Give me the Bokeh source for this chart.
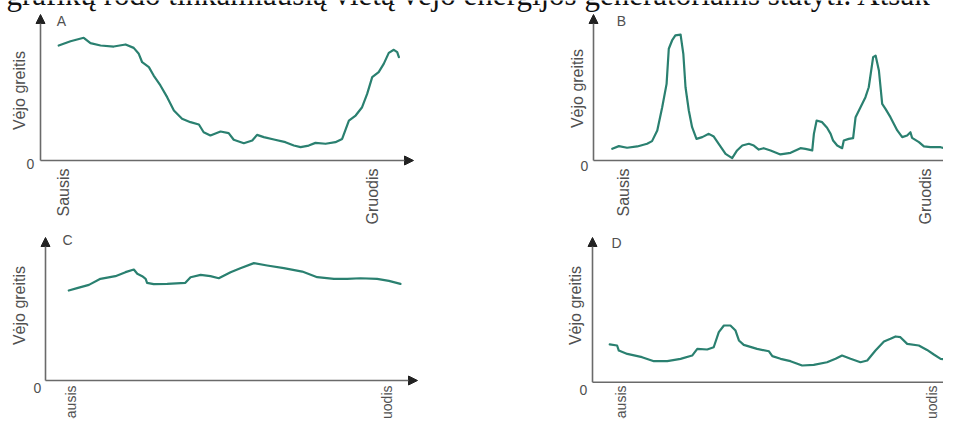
from math import pi
from bokeh.plotting import figure
from bokeh.models import Range1d, Arrow, NormalHead, Label
from bokeh.embed import file_html
from bokeh.resources import INLINE

# ---------------- data (month index: Sausis = 0 ... Gruodis = 11; wind speed in arbitrary units)
month_labels = {0: "Sausis", 11: "Gruodis"}
y_axis_label = "Vėjo greitis"
heading = "grafikų rodo tinkamiausią vietą vėjo energijos generatoriams statyti. Atsak"

A_month = [-0.17, 0.25, 0.72, 0.96, 1.32, 1.79, 2.21, 2.50, 2.68, 2.80, 3.04, 3.21, 3.45, 3.69, 3.93,
           4.22, 4.52, 4.82, 4.99, 5.23, 5.59, 5.88, 6.06, 6.42, 6.72, 6.89, 7.13, 7.49, 7.90, 8.20,
           8.44, 8.73, 8.97, 9.33, 9.68, 9.92, 10.16, 10.40, 10.63, 10.81, 10.99, 11.22, 11.40, 11.58,
           11.76, 11.88, 11.94]
A_speed = [7.77, 8.06, 8.29, 7.93, 7.77, 7.70, 7.84, 7.61, 7.21, 6.64, 6.31, 5.74, 5.07, 4.28, 3.38,
           2.82, 2.59, 2.43, 1.91, 1.69, 1.96, 1.85, 1.40, 1.17, 1.35, 1.73, 1.58, 1.42, 1.24, 1.01,
           0.90, 1.01, 1.19, 1.13, 1.24, 1.46, 2.70, 3.04, 3.60, 4.50, 5.63, 5.97, 6.53, 7.27, 7.48,
           7.32, 6.98]

B_month = [-0.42, -0.18, 0.12, 0.49, 0.85, 1.03, 1.22, 1.40, 1.56, 1.64, 1.76, 1.88, 2.07, 2.17, 2.25,
           2.37, 2.49, 2.65, 2.86, 3.10, 3.28, 3.46, 3.71, 3.95, 4.13, 4.32, 4.56, 4.74, 4.92, 5.10,
           5.35, 5.71, 6.08, 6.44, 6.62, 6.87, 6.93, 7.03, 7.23, 7.41, 7.54, 7.63, 7.78, 7.96, 8.02,
           8.20, 8.36, 8.45, 8.63, 8.81, 8.93, 9.09, 9.18, 9.30, 9.42, 9.54, 9.72, 9.97, 10.15, 10.33,
           10.45, 10.51, 10.76, 10.94, 11.18, 11.55, 11.85, 12.03]
B_speed = [0.79, 0.97, 0.86, 0.95, 1.13, 1.31, 2.03, 3.60, 5.18, 7.55, 8.11, 8.45, 8.51, 7.21, 4.95,
           3.38, 2.25, 1.46, 1.58, 1.80, 1.62, 1.13, 0.45, 0.16, 0.68, 1.01, 1.13, 1.01, 0.74, 0.83,
           0.68, 0.41, 0.52, 0.83, 0.79, 0.68, 1.80, 2.70, 2.59, 2.21, 1.80, 1.35, 1.01, 0.83, 1.35,
           1.46, 1.51, 2.93, 3.60, 4.28, 4.95, 6.98, 7.09, 6.08, 3.83, 3.49, 2.93, 2.03, 1.58, 1.69,
           1.91, 1.53, 1.24, 0.95, 0.90, 0.90, 0.72, 0.45]

C_month = [-0.06, 0.23, 0.64, 1.04, 1.56, 1.91, 2.20, 2.32, 2.49, 2.61, 2.66, 2.89, 3.36, 3.99, 4.17,
           4.52, 4.86, 5.15, 5.56, 5.90, 6.37, 6.83, 7.41, 8.05, 8.57, 9.15, 9.61, 10.07, 10.65, 11.06,
           11.46]
C_speed = [6.08, 6.24, 6.46, 6.87, 7.05, 7.32, 7.50, 7.21, 7.05, 6.87, 6.60, 6.51, 6.53, 6.60, 6.98,
           7.14, 7.05, 6.91, 7.32, 7.59, 7.93, 7.77, 7.59, 7.36, 6.98, 6.87, 6.87, 6.91, 6.87, 6.73,
           6.53]

D_month = [-0.38, -0.12, -0.06, 0.24, 0.76, 1.18, 1.65, 2.12, 2.53, 2.71, 3.06, 3.29, 3.47, 3.65, 3.88,
           4.06, 4.18, 4.35, 4.82, 5.24, 5.36, 5.65, 6.00, 6.41, 6.82, 7.29, 7.59, 7.82, 8.12, 8.47,
           8.71, 9.00, 9.30, 9.53, 9.71, 9.88, 10.12, 10.53, 10.82, 11.06, 11.30, 11.59, 11.94]
D_speed = [2.55, 2.48, 2.14, 1.91, 1.69, 1.42, 1.42, 1.58, 1.80, 2.25, 2.21, 2.36, 3.38, 3.83, 3.83,
           3.49, 2.82, 2.52, 2.25, 2.09, 1.76, 1.58, 1.42, 1.13, 1.17, 1.35, 1.58, 1.80, 1.58, 1.35,
           1.47, 2.14, 2.75, 2.93, 3.09, 3.04, 2.59, 2.48, 2.18, 1.87, 1.58, 1.53, 1.58]

series = {"A": (A_month, A_speed), "B": (B_month, B_speed),
          "C": (C_month, C_speed), "D": (D_month, D_speed)}

# ---------------- layout (pixel positions of each small panel in the picture)
W, H, M = 943, 419, 0
S = 14.8  # px per speed unit
layout = {
    "A": dict(x0=63.0, k=28.09, oy=160.0, yax=40, xtip=413, ytip=14, letter=(61, 20.5),
              zero=(30, 163), ylab=(19, 90), tick_top=168, tick_size="16px"),
    "B": dict(x0=623.3, k=27.43, oy=160.0, yax=593, xtip=958, ytip=14, letter=(621, 20.5),
              zero=(584, 165), ylab=(577, 88), tick_top=168, tick_size="16px"),
    "C": dict(x0=70.0, k=28.79, oy=380.0, yax=45, xtip=417, ytip=237, letter=(67, 239),
              zero=(37, 387), ylab=(19, 305), tick_top=385, tick_size="14px"),
    "D": dict(x0=620.0, k=28.33, oy=381.7, yax=592, xtip=962, ytip=237, letter=(616, 242),
              zero=(583, 389), ylab=(575, 305), tick_top=385, tick_size="14px"),
}

def dx(L, px):
    return (px - L["x0"]) / L["k"]

def dy(L, py):
    return (L["oy"] - py) / S

p = figure(width=W, height=H, x_range=Range1d(0, W), y_range=Range1d(0, H),
           output_backend="svg", toolbar_location=None, min_border=0)
p.axis.visible = False
p.grid.visible = False
p.outline_line_color = None
p.background_fill_color = "white"
p.border_fill_color = "white"

LINE = "#2a8070"
AXIS = "#6a6a6a"
HEAD = "#222222"
TXT = "#505050"
FONT = "Liberation Sans"

for name, L in layout.items():
    p.extra_x_ranges[name] = Range1d((M - L["x0"]) / L["k"], (M + W - L["x0"]) / L["k"])
    p.extra_y_ranges[name] = Range1d(-(M + H - L["oy"]) / S, (L["oy"] - M) / S)
    xa = dx(L, L["yax"])
    # axes as arrows
    p.add_layout(Arrow(end=NormalHead(size=9, fill_color=HEAD, line_color=HEAD, line_width=1),
                       x_start=xa, y_start=0, x_end=dx(L, L["xtip"]), y_end=0,
                       line_color=AXIS, line_width=1.6, x_range_name=name, y_range_name=name))
    p.add_layout(Arrow(end=NormalHead(size=9, fill_color=HEAD, line_color=HEAD, line_width=1),
                       x_start=xa, y_start=0, x_end=xa, y_end=dy(L, L["ytip"]),
                       line_color=AXIS, line_width=1.6, x_range_name=name, y_range_name=name))
    # curve
    mx, sp = series[name]
    p.line(mx, sp, line_color=LINE, line_width=2.2, line_join="round", line_cap="round",
           x_range_name=name, y_range_name=name)
    # month tick labels
    for m, txt in month_labels.items():
        p.add_layout(Label(x=m, y=dy(L, L["tick_top"]), text=txt, angle=pi / 2,
                           text_align="right", text_baseline="middle", text_font=FONT,
                           text_font_size=L["tick_size"], text_color=TXT,
                           x_range_name=name, y_range_name=name))
    # zero
    zx, zy = L["zero"]
    p.add_layout(Label(x=dx(L, zx), y=dy(L, zy), text="0", text_align="center",
                       text_baseline="middle", text_font=FONT, text_font_size="14px",
                       text_color=TXT, x_range_name=name, y_range_name=name))
    # y axis title
    lx, ly = L["ylab"]
    p.add_layout(Label(x=dx(L, lx), y=dy(L, ly), text=y_axis_label, angle=pi / 2,
                       text_align="center", text_baseline="middle", text_font=FONT,
                       text_font_size="16px", text_color=TXT,
                       x_range_name=name, y_range_name=name))
    # panel letter
    ax_, ay_ = L["letter"]
    p.add_layout(Label(x=dx(L, ax_), y=dy(L, ay_), text=name, text_align="center",
                       text_baseline="middle", text_font=FONT, text_font_size="14px",
                       text_color=TXT, x_range_name=name, y_range_name=name))

# heading line, cut at the top as in the source scan
LA = layout["A"]
p.add_layout(Label(x=dx(LA, 6), y=dy(LA, -6), text=heading, text_align="left",
                   text_baseline="alphabetic", text_font="Liberation Serif",
                   text_font_size="31px", text_color="#111111",
                   x_range_name="A", y_range_name="A"))

open("out.html", "w").write(file_html(p, INLINE))
